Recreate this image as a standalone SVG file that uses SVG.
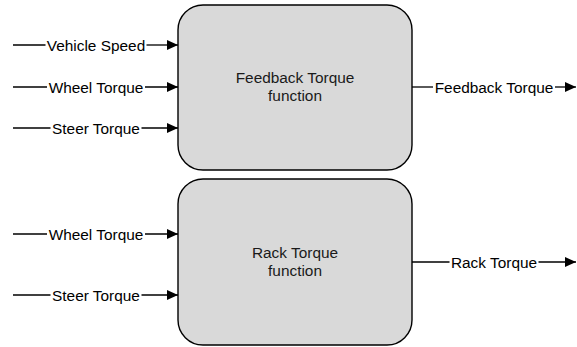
<svg xmlns="http://www.w3.org/2000/svg" width="577" height="347" viewBox="0 0 577 347">
<style>
.box{fill:#d9d9d9;stroke:#000;stroke-width:1.4}
.btxt{font-family:"Liberation Sans",Arial,sans-serif;font-size:15.4px;fill:#1a1a1a;text-anchor:middle}
.lbl{font-family:"Liberation Sans",Arial,sans-serif;font-size:15.4px;fill:#000;text-anchor:middle}
.ln{stroke:#000;stroke-width:1.3;fill:none}
</style>
<defs>
<marker id="ah" markerWidth="12" markerHeight="12" viewBox="0 0 12 12" refX="11" refY="6" orient="auto" markerUnits="userSpaceOnUse">
<path d="M0,1 L11,6 L0,11 Z" fill="#000"/>
</marker>
</defs>
<rect width="577" height="347" fill="#fff"/>
<g id="feedback-torque-function">
<rect class="box" x="178" y="5" width="234" height="165" rx="25" ry="25"/>
<text class="btxt" x="295" y="83">Feedback Torque</text>
<text class="btxt" x="295" y="101">function</text>
</g>
<g id="rack-torque-function">
<rect class="box" x="178" y="179" width="234" height="166" rx="25" ry="25"/>
<text class="btxt" x="295" y="258">Rack Torque</text>
<text class="btxt" x="295" y="276">function</text>
</g>
<g id="connectors">
<path class="ln" d="M13,45 H45.5"/><path class="ln" d="M146.5,45 H178" marker-end="url(#ah)"/>
<text class="lbl" x="96" y="50.5">Vehicle Speed</text>
<path class="ln" d="M13,87 H47"/><path class="ln" d="M145,87 H178" marker-end="url(#ah)"/>
<text class="lbl" x="96" y="92.5">Wheel Torque</text>
<path class="ln" d="M13,128 H50.5"/><path class="ln" d="M141.5,128 H178" marker-end="url(#ah)"/>
<text class="lbl" x="96" y="133.5">Steer Torque</text>
<path class="ln" d="M412,87 H433"/><path class="ln" d="M555,87 H576" marker-end="url(#ah)"/>
<text class="lbl" x="494" y="92.5">Feedback Torque</text>
<path class="ln" d="M13,234 H47"/><path class="ln" d="M145,234 H178" marker-end="url(#ah)"/>
<text class="lbl" x="96" y="239.5">Wheel Torque</text>
<path class="ln" d="M13,295 H50.5"/><path class="ln" d="M141.5,295 H178" marker-end="url(#ah)"/>
<text class="lbl" x="96" y="300.5">Steer Torque</text>
<path class="ln" d="M412,262 H449.5"/><path class="ln" d="M538.5,262 H576" marker-end="url(#ah)"/>
<text class="lbl" x="494" y="267.5">Rack Torque</text>
</g>
</svg>
